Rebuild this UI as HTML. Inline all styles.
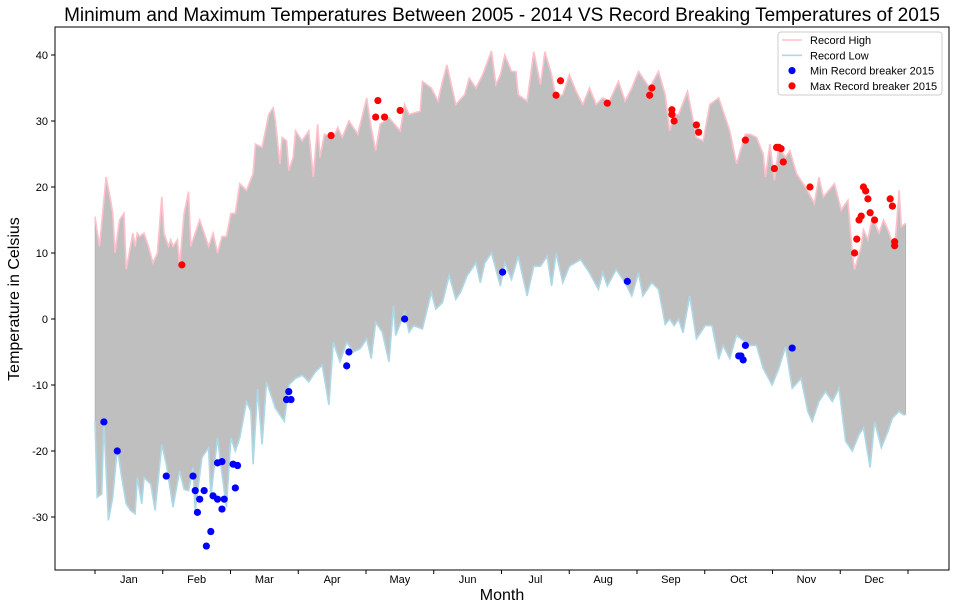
<!DOCTYPE html>
<html><head><meta charset="utf-8">
<style>
body{margin:0;background:#fff;}
svg{display:block;font-family:"Liberation Sans",sans-serif;}
</style></head>
<body>
<svg id="chart" width="954" height="610" viewBox="0 0 954 610" xmlns="http://www.w3.org/2000/svg"></svg>
<script>
const highDays=[0,2,5,7,8,9,11,12,13,14,17,18,19,20,22,24,26,28,30,31,33,34,35,37,38,40,42,43,47,51,53,55,57,59,61,63,65,68,71,72,75,78,80,81,83,84,86,87,89,90,93,96,98,100,101,103,107,109,111,114,118,122,124,126,128,132,137,139,141,146,147,151,154,156,158,162,166,168,171,174,178,180,182,184,187,189,190,194,197,200,202,205,207,210,213,216,219,222,225,228,231,235,238,241,244,249,253,256,258,260,262,266,268,270,273,276,280,285,288,292,294,297,300,301,303,305,307,310,312,315,319,323,325,327,332,335,338,340,341,344,345,347,349,352,354,356,359,361,362,364];
const highVals=[15.5,11,21.5,18,16,10,15,15.5,16,7.5,13,11,13,12.5,13,11,8.5,10,18.5,13,11,12,11,12,8.2,16,19.3,11,15,11,13,10,12.5,12.5,16,16,20.5,19.5,22,26.5,26,31,32,30,23.5,27.5,27,22.5,24.5,28.5,27,28.5,21.5,29.5,24.5,28,27.5,29,27.5,30,28,33.5,29,25.5,29.5,30.5,28.5,32.5,31,31.5,36,35,33,36,38.5,32.5,34,36.5,35,37,40.6,35.5,37,40,37.5,37.5,34,33,40.5,35.5,40.5,37,33.5,34,37,34.5,32.5,35,32.5,33.5,33,36,33,35,37.5,35,37.5,34,28.5,31,31,34.5,31,27.5,27,32.5,33.5,28.5,23.5,28,28,27.5,25,21.5,26.5,21,26,24.5,25.5,22,20,17.5,21.5,18.5,20.5,16.5,18,10,7.5,11,13.5,12,15.5,13,15,13.5,10.5,19.5,14,14.5];
const lowDays=[0,1,3,4,6,8,10,12,14,16,18,19,21,22,25,27,30,32,35,38,40,42,44,45,48,51,52,55,57,59,61,63,65,68,70,71,73,75,77,81,85,87,90,93,96,99,102,105,107,110,113,116,119,122,124,126,129,132,134,135,139,141,143,147,151,153,156,159,162,164,167,171,173,175,178,182,184,187,190,194,197,200,203,205,207,210,213,218,222,226,228,230,234,238,241,244,246,250,253,256,258,260,262,264,267,270,274,277,280,282,285,288,294,297,300,304,307,310,313,317,320,322,325,328,331,334,337,340,343,345,348,350,353,356,358,361,363,364];
const lowVals=[-15.5,-27,-26.5,-15.5,-30.5,-27,-19.5,-24,-28,-29,-29.5,-24,-28,-24,-25,-29,-19,-22,-28.5,-23,-25.8,-26,-22.5,-29,-21,-19.5,-27,-18,-23.5,-28.5,-18,-20,-18,-12.5,-14,-22,-10.6,-19,-9.5,-13.5,-15.5,-10,-9,-8.5,-9.5,-8,-7,-13,-3.5,-6.5,-3.5,-5,-4.5,-3,-6,-0.5,-2,-6.5,2,-2.5,1,-2,-1,-1.5,4,1.5,2.5,6.6,3,4,6.5,8.5,5.5,8.5,10,5,8.5,6,9.5,3.5,8,8,9.5,5,10,5.5,8,9,7,4.5,7,5,7.5,5.5,3.5,7,3.5,5.5,4.5,-0.8,0,-1,0,-2.1,3.5,-3,-1,-1,-6.1,-4,-6,-2.5,-4,-4,-7.5,-10,-7.5,-4.2,-10.5,-9,-14,-15.5,-12.5,-11,-12.5,-10.5,-18.5,-20,-17.5,-16.5,-22.5,-15.5,-19.5,-17,-15,-14,-14.5,-14.5];
const minDays=[4,10,32,44,45,46,47,49,50,52,53,55,55,57,57,58,62,63,64,86,87,88,113,114,139,183,239,289,290,291,292,313];
const minVals=[-15.6,-20,-23.8,-23.8,-26,-29.3,-27.3,-26,-34.4,-32.2,-26.8,-27.3,-21.8,-21.6,-28.8,-27.3,-22,-25.6,-22.2,-12.2,-11,-12.2,-7.1,-5,0,7.1,5.7,-5.6,-5.6,-6.2,-4,-4.4];
const maxDays=[39,106,126,127,130,137,207,209,230,249,250,259,259,260,270,271,292,305,306,307,308,309,321,341,342,343,344,345,346,347,348,350,357,358,359,359];
const maxVals=[8.2,27.8,30.6,33.1,30.6,31.6,33.9,36.1,32.7,33.9,35,31,31.7,30,29.4,28.3,27.1,22.8,26,26,25.8,23.8,20,10,12.1,15,15.6,20,19.4,18.2,16.1,15,18.2,17.1,11.1,11.7];
const months=["Jan","Feb","Mar","Apr","May","Jun","Jul","Aug","Sep","Oct","Nov","Dec"];
const yTicks=[-30,-20,-10,0,10,20,30,40];

const svg=document.getElementById('chart');
const NS='http://www.w3.org/2000/svg';
const L=55,R=949,T=27,B=570;
const xS=d=>95+d*(813/365);
const yS=v=>319-v*6.6;
function mk(tag,attrs,parent){const e=document.createElementNS(NS,tag);for(const k in attrs)e.setAttribute(k,attrs[k]);(parent||svg).appendChild(e);return e;}
const nH=Math.min(highDays.length,highVals.length);
const nL=Math.min(lowDays.length,lowVals.length);
const hp=[],lp=[];
for(let i=0;i<nH;i++)hp.push(xS(highDays[i]).toFixed(1)+','+yS(highVals[i]).toFixed(1));
for(let i=0;i<nL;i++)lp.push(xS(lowDays[i]).toFixed(1)+','+yS(lowVals[i]).toFixed(1));

const fill=mk('path',{d:'M'+hp.join('L')+'L'+lp.slice().reverse().join('L')+'Z',fill:'#bfbfbf',stroke:'#a8a8a8','stroke-width':0.5});



const hl=mk('polyline',{points:hp.join(' '),fill:'none',stroke:'pink','stroke-width':1.6});


const ll=mk('polyline',{points:lp.join(' '),fill:'none',stroke:'lightblue','stroke-width':1.6});



minDays.forEach((d,i)=>{const c=mk('circle',{cx:xS(d),cy:yS(minVals[i]),r:3.6,fill:'blue'});

});
maxDays.forEach((d,i)=>{const c=mk('circle',{cx:xS(d),cy:yS(maxVals[i]),r:3.6,fill:'red'});

});

const fr=mk('rect',{x:L,y:T,width:R-L,height:B-T,fill:'none',stroke:'#000','stroke-width':1});



yTicks.forEach(v=>{const y=yS(v);mk('line',{x1:L-4,x2:L,y1:y,y2:y,stroke:'#000'});
const t=mk('text',{x:L-7,y:y+4,'text-anchor':'end','font-size':11});t.textContent=v;

});
for(let i=0;i<=12;i++){const x=xS(i*365/12);mk('line',{x1:x,x2:x,y1:B,y2:B+4,stroke:'#000'});}
months.forEach((m,i)=>{const x=xS((i+0.5)*365/12);const t=mk('text',{x:x,y:B+13,'text-anchor':'middle','font-size':11});t.textContent=m;

});

const title=mk('text',{x:(L+R)/2,y:21,'text-anchor':'middle','font-size':19});
title.textContent='Minimum and Maximum Temperatures Between 2005 - 2014 VS Record Breaking Temperatures of 2015';


const xl=mk('text',{x:(L+R)/2,y:600,'text-anchor':'middle','font-size':16});xl.textContent='Month';


const yl=mk('text',{x:0,y:0,'text-anchor':'middle','font-size':16,transform:'translate(19,299) rotate(-90)'});yl.textContent='Temperature in Celsius';



const lg=mk('g',{});


mk('rect',{x:778,y:32,width:164,height:63,rx:3,fill:'#fff',stroke:'#ccc'},lg);
const items=[['Record High','line','pink'],['Record Low','line','lightblue'],['Min Record breaker 2015','dot','blue'],['Max Record breaker 2015','dot','red']];
items.forEach((it,i)=>{const y=40+i*15.3;
if(it[1]=='line')mk('line',{x1:782,x2:802,y1:y,y2:y,stroke:it[2],'stroke-width':1.6},lg);
else mk('circle',{cx:792,cy:y,r:3.6,fill:it[2]},lg);
const t=mk('text',{x:810,y:y+4,'font-size':11},lg);t.textContent=it[0];

});
</script>
</body></html>
